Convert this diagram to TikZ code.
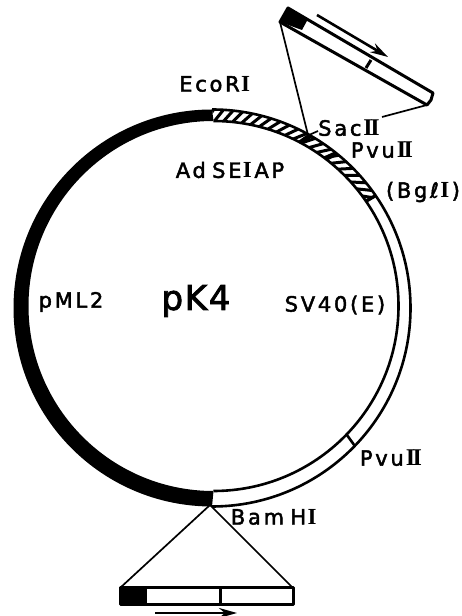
\documentclass[tikz,border=0pt]{standalone}
\usepackage{fontspec}
\setmainfont{DejaVu Sans}
\newfontfamily\labelfont[LetterSpace=13,FakeBold=2.2]{DejaVu Sans}
\newfontfamily\titlefont[LetterSpace=5,FakeBold=2.5]{DejaVu Sans}
\newfontfamily\romanfont{Liberation Serif}[BoldFont=Liberation Serif Bold]
\newcommand{\rII}{\kern2pt{\romanfont\bfseries\fontsize{24}{24}\selectfont I\kern-0.1em I}}
\newcommand{\rI}{\kern1.5pt{\romanfont\bfseries\fontsize{23}{23}\selectfont I}\kern2.5pt}
\usetikzlibrary{arrows.meta,calc}
\tikzset{
  site/.style={font=\labelfont\fontsize{21}{21}\selectfont,inner sep=0pt,text=black},
  ring/.style={line width=2.6pt,draw=black},
  thinl/.style={line width=1.7pt,draw=black},
  boxl/.style={line width=3pt,draw=black,line join=round},
  hatch/.style={line width=3pt,draw=black,line cap=butt},
  dirarrow/.style={line width=2.6pt,draw=black,-{Stealth[length=18pt,width=10pt]}},
}
\begin{document}
\begin{tikzpicture}[x=1pt,y=1pt]
\useasboundingbox (0,0) rectangle (462,616);
% px coordinates: (x, 616-y)
\coordinate (co) at (212,308);
\coordinate (ci) at (213.5,310);
\def\Ro{198.5}
\def\Ri{185}
% black arc
\fill[black] ($(co)+(90:\Ro)$) arc[start angle=90,end angle=270,radius=\Ro]
  -- ($(ci)+(270:\Ri)$) arc[start angle=270,end angle=90,radius=\Ri] -- cycle;
% hatching
\begin{scope}
\clip ($(co)+(90:\Ro)$) arc[start angle=90,end angle=34.5,radius=\Ro]
  -- ($(ci)+(34.5:\Ri)$) arc[start angle=34.5,end angle=90,radius=\Ri] -- cycle;
\foreach \a in {91,88.2,...,30}{
  \draw[hatch] ($(ci)+(\a+1.5:\Ri)$) -- ($(co)+(\a-1.5:\Ro)$);
}
\foreach \a in {61.2,52}{
  \draw[line width=5pt] ($(ci)+(\a+1:\Ri-1)$) -- ($(co)+(\a-1:\Ro+1)$);
}
\end{scope}
% outlines of the white / hatched part
\draw[ring] ($(co)+(90:\Ro)$) arc[start angle=90,end angle=-90,radius=\Ro];
\draw[ring] ($(ci)+(90:\Ri)$) arc[start angle=90,end angle=-90,radius=\Ri];
\draw[line width=3.4pt] ($(ci)+(34.5:\Ri)$) -- ($(co)+(34.5:\Ro)$);
\draw[line width=2.6pt] ($(ci)+(-44:\Ri)$) -- ($(co)+(-44:\Ro)$);
% top insert
\coordinate (ta) at (288,608);
\coordinate (tb) at (280,594);
\coordinate (tc) at (427,511);
\coordinate (td) at (433,523);
\coordinate (tm) at (431,516);
\fill[black] (ta) -- (tb) -- (302,586) -- (308,597) -- cycle;
\draw[boxl] (ta) -- (td) -- (tm) -- (tc) -- (tb) -- cycle;
\draw[boxl] (371,556) -- (366,548);
\coordinate (siteA) at (307.5,483);
\coordinate (siteB) at (382,499);
\draw[thinl] (tb) -- (siteA);
\draw[thinl] (tc) -- (siteB);
\draw[thinl] (309,481) -- (318,485);
\coordinate (ua) at (317,601);
\coordinate (ub) at (388,559);
\draw[dirarrow] (ua) -- (ub);
% bottom insert
\coordinate (bapex) at (210,111);
\coordinate (bl) at (120,28);
\coordinate (br) at (293,28);
\fill[black] (120,28) rectangle (147,11);
\draw[boxl] (120,28) rectangle (293,11);
\draw[boxl] (220,28) -- (220,11);
\draw[thinl] (bapex) -- (bl);
\draw[thinl] (bapex) -- (br);
\coordinate (va) at (155,3);
\coordinate (vb) at (237,3);
\draw[dirarrow] (va) -- (vb);
% labels
\node[site] (eco) at (216,532) {EcoR\rI};
\node[site] (ad) at (230,446) {Ad\kern0.3em SE\rI AP};
\node[site] (sac) at (349,488) {Sac\rII};
\node[site] (pvu1) at (382,466) {Pvu\rII};
\node[site] (bgl) at (423,424) {(Bgℓ\rI)};
\node[site] (pml) at (71,314) {pML2};
\node[site,font=\titlefont\fontsize{34}{34}\selectfont] (pk) at (196,315) {pK4};
\node[site] (sv) at (335,311) {SV40(E)};
\node[site] (pvu2) at (391,158) {Pvu\rII};
\node[site] (bam) at (275,99) {Bam\kern0.3em H\rI};
\end{tikzpicture}
\end{document}
